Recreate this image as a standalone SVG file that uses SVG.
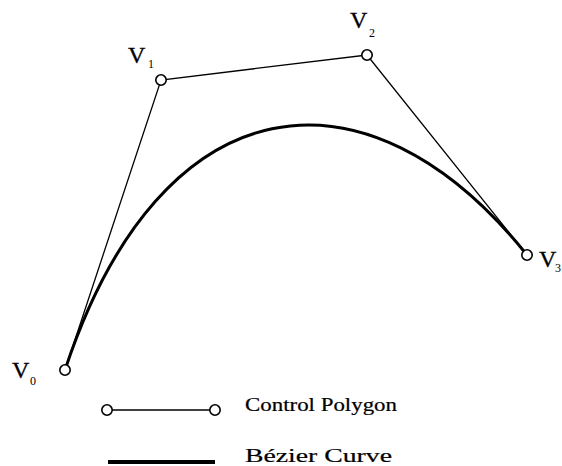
<svg xmlns="http://www.w3.org/2000/svg" width="562" height="466" viewBox="0 0 562 466">
<style>
.poly{fill:none;stroke:#000;stroke-width:1.3}
.curve{fill:none;stroke:#000;stroke-width:3}
.pt{fill:#fff;stroke:#000;stroke-width:1.6}
.lbl{font-family:"Liberation Serif","Times New Roman",serif;font-size:24px;fill:#000;stroke:#000;stroke-width:0.3}
.sub{font-family:"Liberation Serif","Times New Roman",serif;font-size:12px;fill:#000}
.leg{font-family:"Liberation Serif","Times New Roman",serif;font-size:19px;fill:#000;stroke:#000;stroke-width:0.2}
</style>
<rect width="562" height="466" fill="#fff"/>
<g id="connectors">
<polyline class="poly" points="65,370 161,80 367,55 527,255"/>
<path class="curve" d="M65,370 C161,80 367,55 527,255"/>
</g>
<g id="V0"><circle class="pt" cx="65" cy="370" r="5.2"/><text class="lbl" x="12" y="378">V</text><text class="sub" x="30" y="385">0</text></g>
<g id="V1"><circle class="pt" cx="161" cy="80" r="5.2"/><text class="lbl" x="128" y="63">V</text><text class="sub" x="148" y="68">1</text></g>
<g id="V2"><circle class="pt" cx="367" cy="55" r="5.2"/><text class="lbl" x="350" y="28">V</text><text class="sub" x="369" y="37">2</text></g>
<g id="V3"><circle class="pt" cx="527" cy="255" r="5.2"/><text class="lbl" x="539" y="267">V</text><text class="sub" x="555" y="272" font-size="10">3</text></g>
<g id="legend-polygon">
<line class="poly" x1="107" y1="410" x2="215" y2="410"/>
<circle class="pt" cx="107" cy="410" r="5.2"/>
<circle class="pt" cx="215" cy="410" r="5.2"/>
<text class="leg" x="245" y="411" textLength="152" lengthAdjust="spacingAndGlyphs">Control Polygon</text>
</g>
<g id="legend-curve">
<line x1="108" y1="462" x2="215" y2="462" stroke="#000" stroke-width="4"/>
<text class="leg" x="245" y="462" textLength="147" lengthAdjust="spacingAndGlyphs">Bézier Curve</text>
</g>
</svg>
